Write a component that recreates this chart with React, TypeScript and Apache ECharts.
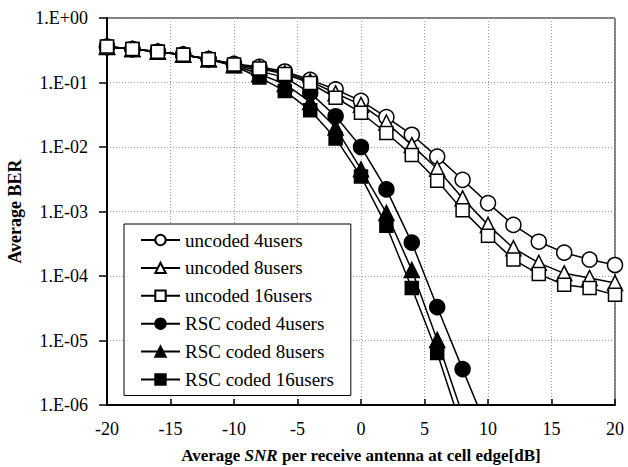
import React, { useEffect, useRef } from "react";
import * as echarts from "echarts";

const snr = [-20, -18, -16, -14, -12, -10, -8, -6, -4, -2, 0, 2, 4, 6, 8, 10, 12, 14, 16, 18, 20];

const uncoded4 = [0.36, 0.33, 0.30, 0.27, 0.23, 0.195, 0.175, 0.148, 0.11, 0.078, 0.052, 0.029, 0.0155, 0.0071, 0.0031, 0.00135, 0.00062, 0.00034, 0.00023, 0.00018, 0.000148];
const uncoded8 = [0.36, 0.33, 0.30, 0.27, 0.23, 0.192, 0.17, 0.14, 0.104, 0.068, 0.045, 0.024, 0.0107, 0.0046, 0.0016, 0.00062, 0.00027, 0.00016, 0.00011, 0.000093, 0.000078];
const uncoded16 = [0.36, 0.33, 0.30, 0.27, 0.23, 0.19, 0.165, 0.135, 0.098, 0.058, 0.034, 0.0165, 0.0075, 0.0030, 0.00105, 0.00042, 0.00018, 0.000107, 0.000073, 0.000065, 0.000051];
const coded4 = [0.355, 0.33, 0.30, 0.27, 0.23, 0.19, 0.15, 0.12, 0.069, 0.030, 0.010, 0.0022, 0.00033, 0.000033, 0.0000036, 0.0000004];
const coded8 = [0.355, 0.33, 0.30, 0.27, 0.23, 0.185, 0.135, 0.095, 0.05, 0.02, 0.0045, 0.00095, 0.000124, 0.0000102, 0.0000007];
const coded16 = [0.355, 0.33, 0.30, 0.27, 0.23, 0.18, 0.12, 0.074, 0.037, 0.0136, 0.0035, 0.0006, 0.000065, 0.0000064, 0.0000004];

const seriesNames = [
  "uncoded 4users",
  "uncoded 8users",
  "uncoded 16users",
  "RSC coded 4users",
  "RSC coded 8users",
  "RSC coded 16users",
];
const seriesValues = [uncoded4, uncoded8, uncoded16, coded4, coded8, coded16];
const seriesSymbols = ["circle", "triangle", "rect", "circle", "triangle", "rect"];
const seriesFilled = [false, false, false, true, true, true];

const FONT = "Liberation Serif";

function fmtY(v: number): string {
  const e = Math.round(Math.log10(v));
  const sign = e < 0 ? "-" : "+";
  const a = Math.abs(e);
  return "1.E" + sign + (a < 10 ? "0" + a : String(a));
}

export default function App() {
  const ref = useRef<HTMLDivElement>(null);
  useEffect(() => {
    if (!ref.current) return;
    const chart = echarts.init(ref.current, null, { renderer: "svg" });
    const series = seriesNames.map((name, i) => ({
      name,
      type: "line",
      data: seriesValues[i].map((v, j) => [snr[j], v]),
      symbol: seriesSymbols[i],
      symbolSize: seriesSymbols[i] === "rect" ? 13 : 15,
      showSymbol: true,
      clip: true,
      lineStyle: { color: "#000", width: 1.5 },
      itemStyle: {
        color: seriesFilled[i] ? "#000" : "#fff",
        borderColor: "#000",
        borderWidth: 1.5,
      },
      z: seriesFilled[i] ? 2 : 3,
    }));
    chart.setOption({
      animation: false,
      backgroundColor: "#fff",
      textStyle: { fontFamily: FONT, color: "#000" },
      grid: {
        left: 107,
        right: 13,
        top: 18,
        bottom: 62,
        show: true,
        borderColor: "#000",
        borderWidth: 1,
        backgroundColor: "transparent",
        outerBoundsMode: "none",
        containLabel: false,
      },
      legend: {
        orient: "vertical",
        left: 124,
        top: 224,
        itemWidth: 39,
        itemHeight: 13,
        itemGap: 5.9,
        padding: [5, 17, 5, 16],
        backgroundColor: "#fff",
        borderColor: "#000",
        borderWidth: 1,
        textStyle: { fontFamily: FONT, fontSize: 19, lineHeight: 22, color: "#000" },
        data: seriesNames,
      },
      xAxis: {
        type: "value",
        min: -20,
        max: 20,
        interval: 5,
        name: "{b|Average }{i|SNR}{b| per receive antenna at cell edge[dB]}",
        nameLocation: "middle",
        nameGap: 42,
        nameTextStyle: {
          fontFamily: FONT,
          rich: {
            b: { fontFamily: FONT, fontSize: 17, fontWeight: "bold", color: "#000" },
            i: { fontFamily: FONT, fontSize: 17, fontWeight: "bold", fontStyle: "italic", color: "#000" },
          },
        },
        axisLine: { onZero: false, lineStyle: { color: "#000", width: 2 } },
        axisTick: { inside: true, length: 6, lineStyle: { color: "#000", width: 1.5 } },
        axisLabel: { fontFamily: FONT, fontSize: 18, color: "#000", margin: 15 },
        splitLine: { show: true, lineStyle: { color: "#999", type: [1, 2], width: 1 } },
      },
      yAxis: {
        type: "log",
        logBase: 10,
        min: 1e-6,
        max: 1,
        name: "Average BER",
        nameLocation: "middle",
        nameGap: 78,
        nameRotate: 90,
        nameTextStyle: { fontFamily: FONT, fontSize: 18, fontWeight: "bold", color: "#000" },
        axisLine: { show: true, onZero: false, lineStyle: { color: "#000", width: 2 } },
        axisTick: { show: true, inside: false, length: 8, lineStyle: { color: "#000", width: 1.5 } },
        axisLabel: { fontFamily: FONT, fontSize: 18, color: "#000", margin: 19, formatter: fmtY },
        splitLine: { show: true, lineStyle: { color: "#999", type: [1, 2], width: 1 } },
        minorTick: { show: false },
      },
      series,
    });
    return () => chart.dispose();
  }, []);
  return (
    <div
      ref={ref}
      style={{ position: "absolute", left: 0, top: 0, width: 628, height: 467 }}
    />
  );
}
